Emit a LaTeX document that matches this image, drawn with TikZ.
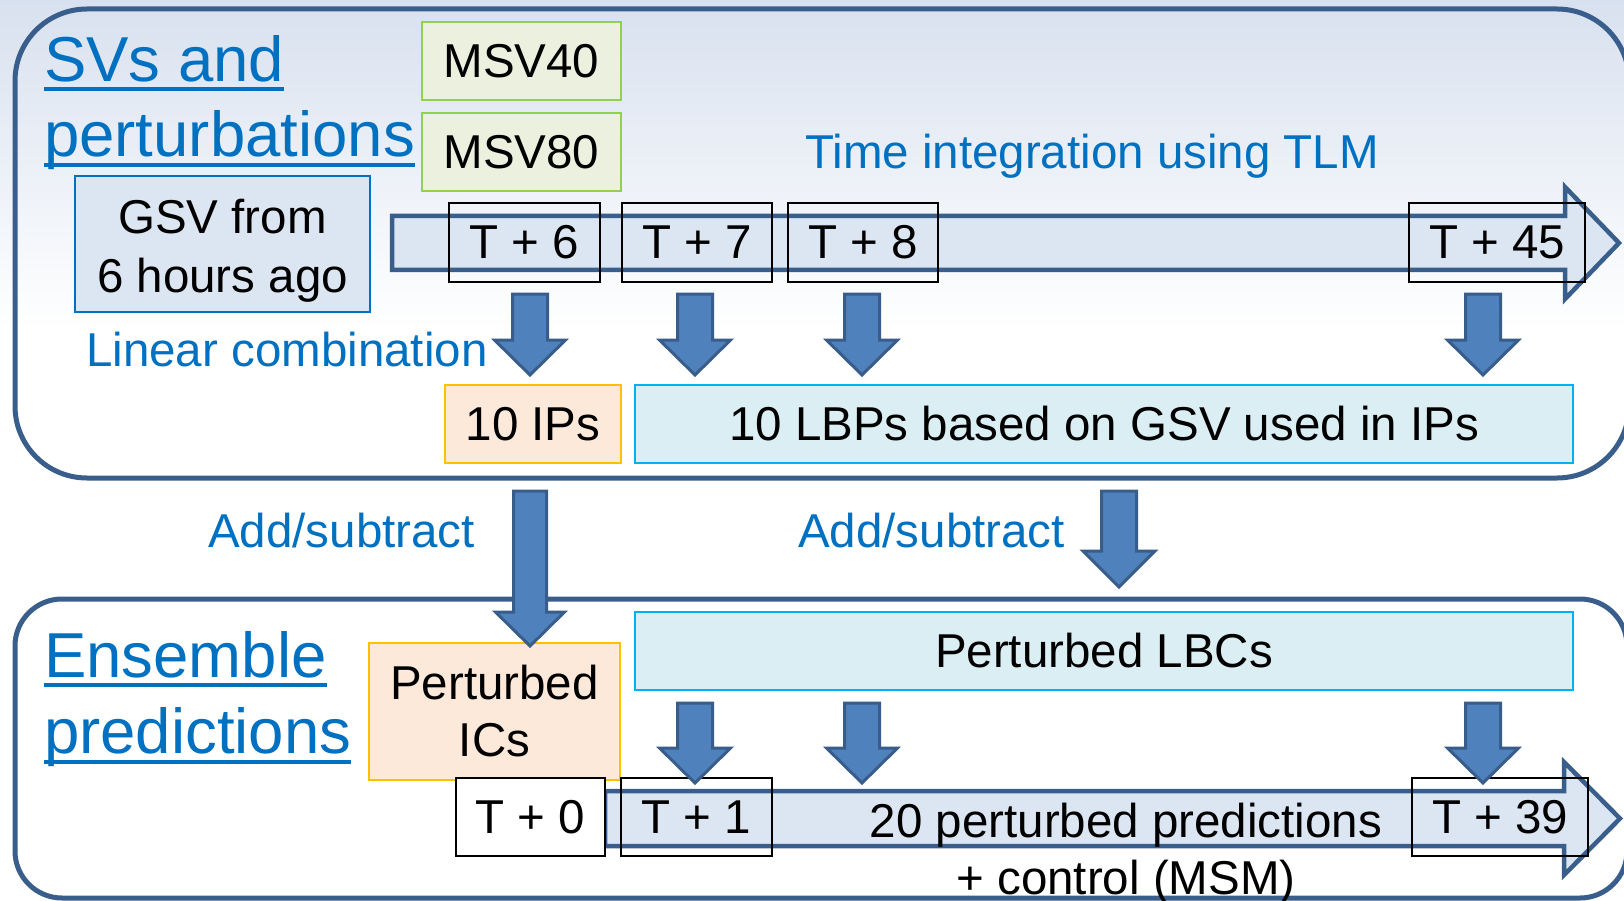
\documentclass[tikz,border=0pt]{standalone}
\usepackage{fontspec}
\setmainfont{Liberation Sans}
\definecolor{bgtop}{RGB}{216,225,239}
\definecolor{panelline}{RGB}{58,94,140}
\definecolor{bluetxt}{RGB}{0,112,192}
\definecolor{greenfill}{RGB}{235,241,222}
\definecolor{greenline}{RGB}{146,208,80}
\definecolor{gsvfill}{RGB}{220,230,242}
\definecolor{gsvline}{RGB}{0,112,192}
\definecolor{orfill}{RGB}{253,233,217}
\definecolor{orline}{RGB}{255,192,0}
\definecolor{cyfill}{RGB}{218,238,243}
\definecolor{cyline}{RGB}{0,176,240}
\definecolor{arrfill}{RGB}{79,129,189}
\definecolor{arrline}{RGB}{56,93,138}
\definecolor{timefill}{RGB}{220,230,242}
\newcommand\fsN{\fontsize{47.5}{57}\selectfont}
\newcommand\fsG{\fontsize{47.5}{59}\selectfont}
\newcommand\fsH{\fontsize{63.5}{75}\selectfont}
\newcommand\blockdn[6]{\draw[dnarrow] ({#1-#5},#2) -- ({#1+#5},#2) -- ({#1+#5},#3) -- ({#1+#6},#3) -- (#1,#4) -- ({#1-#6},#3) -- ({#1-#5},#3) -- cycle;}
\tikzset{
  panel/.style={draw=panelline, line width=5pt},
  txt/.style={inner sep=0pt, font=\fsN},
  bluetext/.style={inner sep=0pt, font=\fsN, text=bluetxt, anchor=base west},
  heading/.style={inner sep=0pt, font=\fsH, text=bluetxt, anchor=base west},
  uline/.style={draw=bluetxt, line width=3.5pt},
  msvbox/.style={draw=greenline, fill=greenfill, line width=2pt, minimum width=199pt, minimum height=78pt, inner sep=0pt, font=\fsN},
  gsvbox/.style={draw=gsvline, fill=gsvfill, line width=2pt, minimum width=295pt, minimum height=136pt, inner sep=0pt, font=\fsG, align=center},
  orbox/.style={draw=orline, fill=orfill, line width=2.5pt, inner sep=0pt, font=\fsN, align=center},
  cybox/.style={draw=cyline, fill=cyfill, line width=2.5pt, inner sep=0pt, font=\fsN, minimum width=938pt, minimum height=78pt},
  tbox/.style={draw=black, line width=2pt, minimum height=78pt, inner sep=0pt, font=\fsN},
  timearrow/.style={draw=panelline, fill=timefill, line width=4.5pt, line join=miter},
  dnarrow/.style={draw=arrline, fill=arrfill, line width=3pt, line join=miter}
}
\begin{document}
\begin{tikzpicture}[x=1pt,y=-1pt]
\useasboundingbox (0,0) rectangle (1624,901);
% background
\fill[white] (0,0) rectangle (1624,901);
\shade[top color=bgtop, bottom color=white] (0,0) rectangle (1624,330);
% panels
\draw[panel, rounded corners=72pt] (15,9) rectangle (1629,478);
\draw[panel, rounded corners=47pt] (15,599) rectangle (1627,898);
% time arrows
\draw[timearrow] (392,216) -- (1565,216) -- (1565,187) -- (1619,243) -- (1565,299) -- (1565,270) -- (392,270) -- cycle;
\draw[timearrow] (605,791) -- (1564,791) -- (1564,762) -- (1620,818.5) -- (1564,875) -- (1564,846) -- (605,846) -- cycle;
% headings
\node[heading] (h1) at (44,82) {SVs and};
\node[heading] (h2) at (44,157) {perturbations};
\node[heading] (h3) at (44,677) {Ensemble};
\node[heading] (h4) at (44,753) {predictions};
\draw[uline] ([yshift=-7pt]h1.base west) -- ([yshift=-7pt]h1.base east);
\draw[uline] ([yshift=-8pt]h2.base west) -- ([yshift=-8pt]h2.base east);
\draw[uline] ([yshift=-8pt]h3.base west) -- ([yshift=-8pt]h3.base east);
\draw[uline] ([yshift=-9pt]h4.base west) -- ([yshift=-9pt]h4.base east);
% blue labels
\node[bluetext] (lti) at (805,169) {Time integration using TLM};
\node[bluetext] (llc) at (86,366) {Linear combination};
\node[bluetext] (las1) at (208,547) {Add/subtract};
\node[bluetext] (las2) at (798,547) {Add/subtract};
% boxes
\node[msvbox] (msv40) at (521.5,61) {MSV40};
\node[msvbox] (msv80) at (521.5,152) {MSV80};
\node[gsvbox] (gsv) at (222.5,244) {\rule{0pt}{47pt}GSV from\\6 hours ago};
\node[orbox, minimum width=176pt, minimum height=78pt] (ips) at (533,424) {10 IPs};
\node[cybox] (lbps) at (1104,424) {10 LBPs based on GSV used in IPs};
\node[orbox, minimum width=251pt, minimum height=137pt] (ics) at (494.5,711.5) {Perturbed\\ICs};
\node[cybox] (lbcs) at (1104,651) {Perturbed LBCs};
% time boxes
\node[tbox, minimum width=151pt] (t6) at (524.5,242.5) {T + 6};
\node[tbox, minimum width=150pt] (t7) at (697,242.5) {T + 7};
\node[tbox, minimum width=150pt] (t8) at (863,242.5) {T + 8};
\node[tbox, minimum width=176pt] (t45) at (1497,242.5) {T + 45};
\node[tbox, minimum width=149pt, fill=white] (t0) at (530.5,817) {T + 0};
\node[tbox, minimum width=151pt] (t1) at (696.5,817) {T + 1};
\node[tbox, minimum width=176pt] (t39) at (1500,817) {T + 39};
\node[txt, align=center] (pred) at (1126,853.5) {20 perturbed predictions\\+ control (MSM)};
% down block arrows
\blockdn{530}{294}{340}{375}{17.5}{35.5}
\blockdn{695}{294}{340}{375}{17.5}{35.5}
\blockdn{862}{294}{340}{375}{17.5}{35.5}
\blockdn{1483}{294}{340}{375}{17.5}{35.5}
\blockdn{530}{491}{612}{646}{16.5}{34.5}
\blockdn{1119}{491}{551}{587}{17.5}{36}
\blockdn{695}{703}{748}{783}{17.5}{35.5}
\blockdn{862}{703}{748}{783}{17.5}{35.5}
\blockdn{1483}{703}{748}{783}{17.5}{35.5}
\end{tikzpicture}
\end{document}
